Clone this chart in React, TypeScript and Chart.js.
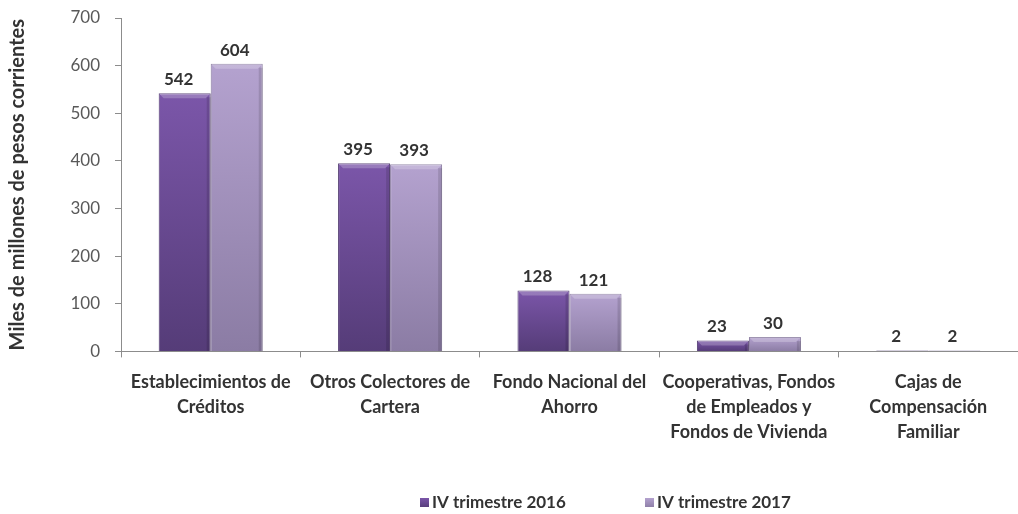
import React, { useEffect, useRef } from "react";
import { Chart, registerables } from "chart.js";

Chart.register(...registerables);

const categories: string[][] = [
  ["Establecimientos de", "Créditos"],
  ["Otros Colectores de", "Cartera"],
  ["Fondo Nacional del", "Ahorro"],
  ["Cooperativas, Fondos", "de Empleados y", "Fondos de Vivienda"],
  ["Cajas de", "Compensación", "Familiar"],
];
const series2016: number[] = [542, 395, 128, 23, 2];
const series2017: number[] = [604, 393, 121, 30, 2];
const seriesLabels: string[] = ["IV trimestre 2016", "IV trimestre 2017"];
const yTitle = "Miles de millones de pesos corrientes";

const FONT = "Lato, 'Open Sans', sans-serif";
const darkTop = "#7b56a9";
const darkBottom = "#553c78";
const lightTop = "#b4a2cf";
const lightBottom = "#8b7ca4";

function barGradient(top: string, bottom: string) {
  return (ctx: any) => {
    const chart = ctx.chart;
    const y = chart.scales?.y;
    if (!y || ctx.type !== "data") return top;
    const yTop = y.getPixelForValue(ctx.raw);
    const yBot = y.getPixelForValue(0);
    if (!isFinite(yTop) || !isFinite(yBot) || yBot - yTop < 1) return bottom;
    const g = chart.ctx.createLinearGradient(0, yTop, 0, yBot);
    g.addColorStop(0, top);
    g.addColorStop(1, bottom);
    return g;
  };
}

const labelOffsets = [-6, -2];

const valueLabels = {
  id: "valueLabels",
  afterDatasetsDraw(chart: any) {
    const ctx = chart.ctx;
    ctx.save();
    ctx.font = `bold 17px ${FONT}`;
    ctx.fillStyle = "#333333";
    ctx.textAlign = "center";
    ctx.textBaseline = "bottom";
    chart.data.datasets.forEach((ds: any, di: number) => {
      const meta = chart.getDatasetMeta(di);
      meta.data.forEach((bar: any, i: number) => {
        const w = bar.width;
        const left = bar.x - w / 2;
        const h = bar.base - bar.y;
        if (h > 4) {
          ctx.save();
          ctx.fillStyle = "rgba(255,255,255,0.22)";
          ctx.beginPath();
          ctx.moveTo(left, bar.y);
          ctx.lineTo(left + w, bar.y);
          ctx.lineTo(left + w - 5, bar.y + 5);
          ctx.lineTo(left + 5, bar.y + 5);
          ctx.closePath();
          ctx.fill();
          ctx.fillStyle = "rgba(0,0,0,0.12)";
          ctx.fillRect(left + w - 4, bar.y + 4, 4, h - 4);
          ctx.restore();
        }
        ctx.fillText(String(ds.data[i]), bar.x + labelOffsets[di], bar.y - 5);
      });
    });
    ctx.restore();
  },
};

const customLegend = {
  id: "customLegend",
  afterDraw(chart: any) {
    const ctx = chart.ctx;
    ctx.save();
    ctx.font = `bold 17px ${FONT}`;
    ctx.textBaseline = "middle";
    ctx.textAlign = "left";
    const starts = [420, 645];
    const yc = 503;
    const cols = [
      [darkTop, darkBottom],
      [lightTop, lightBottom],
    ];
    chart.data.datasets.forEach((ds: any, di: number) => {
      const x = starts[di];
      const g = ctx.createLinearGradient(0, yc - 5, 0, yc + 5);
      g.addColorStop(0, cols[di][0]);
      g.addColorStop(1, cols[di][1]);
      ctx.fillStyle = g;
      ctx.fillRect(x, yc - 5, 9, 9);
      ctx.fillStyle = "#333333";
      ctx.fillText(ds.label, x + 12, yc);
    });
    ctx.restore();
  },
};

export default function App() {
  const ref = useRef<HTMLCanvasElement | null>(null);
  useEffect(() => {
    if (!ref.current) return;
    const chart = new Chart(ref.current, {
      type: "bar",
      data: {
        labels: categories as any,
        datasets: [
          {
            label: seriesLabels[0],
            data: series2016,
            backgroundColor: barGradient(darkTop, darkBottom) as any,
            borderColor: "#4e376e",
            borderWidth: 1,
            categoryPercentage: 0.58,
            barPercentage: 1,
          },
          {
            label: seriesLabels[1],
            data: series2017,
            backgroundColor: barGradient(lightTop, lightBottom) as any,
            borderColor: "#85779c",
            borderWidth: 1,
            categoryPercentage: 0.58,
            barPercentage: 1,
          },
        ],
      },
      options: {
        animation: false,
        responsive: false,
        maintainAspectRatio: false,
        layout: { padding: { top: 18, left: 6, right: 0, bottom: 57 } },
        plugins: {
          legend: { display: false },
          tooltip: { enabled: false },
        },
        scales: {
          x: {
            grid: {
              display: true,
              drawOnChartArea: false,
              drawTicks: true,
              tickLength: 6,
              color: "#8c8c8c",
              offset: true,
            },
            border: { display: true, color: "#8c8c8c" },
            ticks: {
              color: "#333333",
              font: { family: FONT, size: 18, weight: "bold", lineHeight: 1.4 },
              padding: 12,
              maxRotation: 0,
              autoSkip: false,
            },
          },
          y: {
            min: 0,
            max: 700,
            afterFit(scale: any) {
              scale.width = 115;
              scale.paddingTop = 0;
              scale.paddingBottom = 0;
            },
            grid: {
              display: true,
              drawOnChartArea: false,
              drawTicks: true,
              tickLength: 6,
              color: "#8c8c8c",
            },
            border: { display: true, color: "#8c8c8c" },
            ticks: {
              stepSize: 100,
              color: "#595959",
              font: { family: FONT, size: 17 },
              padding: 15,
            },
            title: {
              display: true,
              text: yTitle,
              color: "#333333",
              font: { family: FONT, size: 20, weight: "bold" },
              padding: { top: 0, bottom: 2, y: 0 } as any,
            },
          },
        },
      },
      plugins: [valueLabels, customLegend],
    });
    return () => chart.destroy();
  }, []);
  return (
    <div style={{ position: "fixed", left: 0, top: 0, width: 1018, height: 514, background: "#fff" }}>
      <canvas ref={ref} width={1018} height={514} style={{ display: "block" }} />
    </div>
  );
}
